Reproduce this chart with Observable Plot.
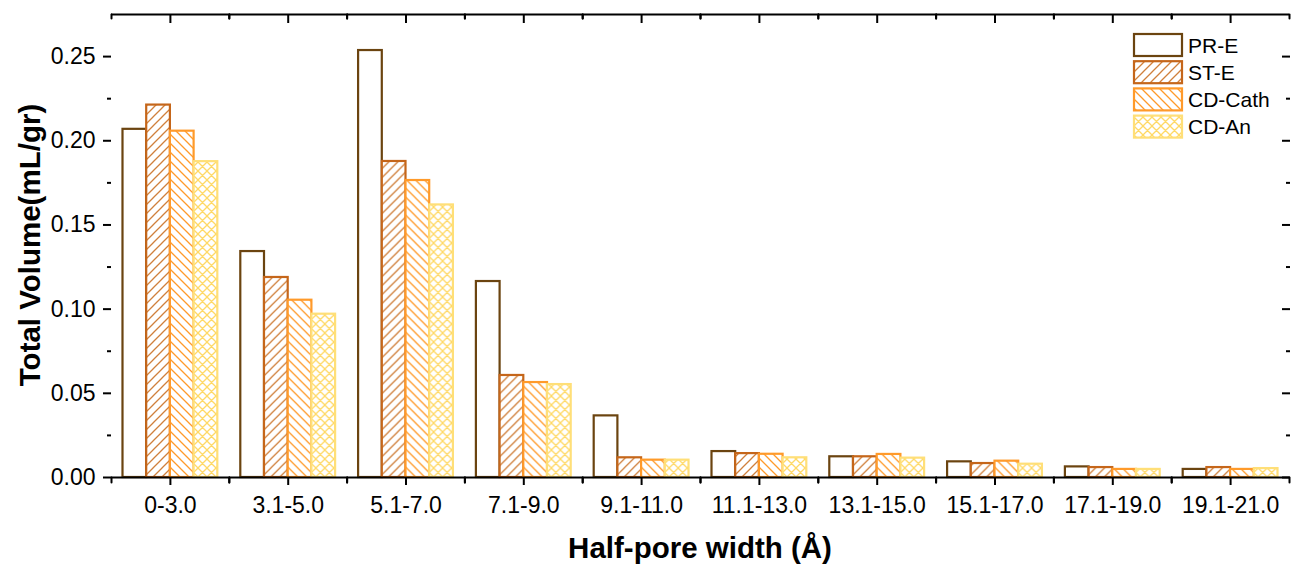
<!DOCTYPE html>
<html>
<head>
<meta charset="utf-8">
<script src="https://cdn.jsdelivr.net/npm/d3@7"></script>
<script src="https://cdn.jsdelivr.net/npm/@observablehq/plot@0.6"></script>
<style>
  html, body { margin: 0; padding: 0; background: #ffffff; }
  #chart svg { display: block; }
</style>
</head>
<body>
<div id="chart"></div>
<script>
// ---- data ----
const categories = ["0-3.0","3.1-5.0","5.1-7.0","7.1-9.0","9.1-11.0","11.1-13.0","13.1-15.0","15.1-17.0","17.1-19.0","19.1-21.0"];
const seriesNames = ["PR-E","ST-E","CD-Cath","CD-An"];
const prE    = [0.2068,0.1342,0.2536,0.1164,0.0366,0.0154,0.0123,0.0093,0.0063,0.0048];
const stE    = [0.2212,0.1188,0.1877,0.0606,0.0117,0.0142,0.0123,0.0083,0.0059,0.0059];
const cdCath = [0.2057,0.1053,0.1764,0.0564,0.0103,0.0138,0.0137,0.0097,0.0048,0.0048];
const cdAn   = [0.1876,0.0970,0.1619,0.0552,0.0103,0.0117,0.0115,0.0079,0.0048,0.0053];
const yTicks = [0,0.05,0.10,0.15,0.20,0.25];
const yMinorTicks = [0.025,0.075,0.125,0.175,0.225];
const xTitle = "Half-pore width (Å)";
const yTitle = "Total Volume(mL/gr)";

// ---- styles ----
const strokes = ["#6b4410","#c5661a","#ff9a2a","#ffdf78"];
const hatchColors = ["#6b4410","#d0803c","#ff9a2a","#ffd966"];
const fills = ["#ffffff","url(#hatch-st)","url(#hatch-cath)","url(#hatch-an)"];
const FONT = "'Liberation Sans', Arial, Helvetica, sans-serif";

const seriesValues = [prE, stE, cdCath, cdAn];
const data = categories.flatMap((c, i) =>
  seriesNames.map((s, j) => ({category: c, series: s, value: seriesValues[j][i]})));

const tickLine = {draw(context, l) { context.moveTo(0, 0); context.lineTo(0, -l); }};

const plot = Plot.plot({
  width: 1291,
  height: 565,
  marginLeft: 111,
  marginRight: 2,
  marginTop: 14,
  marginBottom: 88,
  style: {fontFamily: FONT, fontSize: "23px", color: "#000", background: "#fff"},
  fx: {domain: categories, padding: 0, round: false},
  x: {domain: seriesNames, paddingInner: 0, paddingOuter: 0.485, round: false, axis: null},
  y: {domain: [0, 0.275]},
  marks: [
    ...seriesNames.map((s, j) => Plot.barY(data.filter(d => d.series === s), {
      fx: "category", x: "series", y: "value",
      fill: fills[j], stroke: strokes[j], strokeWidth: 2.2
    })),
    Plot.ruleY([0], {stroke: "#000", strokeWidth: 2}),
    Plot.ruleY([0.275], {stroke: "#000", strokeWidth: 2}),
    // left axis
    Plot.axisY({ticks: yTicks, tickSize: 8, tickPadding: 8, tickFormat: d3.format(".2f"),
      line: true, strokeWidth: 2, label: null, fontSize: 23}),
    Plot.axisY({ticks: yMinorTicks, tickSize: 4, text: null, label: null, strokeWidth: 2}),
    // right axis (inward ticks)
    Plot.axisY({anchor: "right", ticks: [], line: true, label: null, strokeWidth: 2}),
    Plot.axisY({anchor: "right", ticks: yTicks, tickSize: 8, dx: -8, text: null, label: null, strokeWidth: 2}),
    Plot.axisY({anchor: "right", ticks: yMinorTicks, tickSize: 4, dx: -4, text: null, label: null, strokeWidth: 2}),
    // bottom x axis
    Plot.axisFx({anchor: "bottom", tickSize: 8, tickPadding: 11, label: null, fontSize: 23, strokeWidth: 2}),
    // top x axis (inward)
    Plot.axisFx({anchor: "top", tickSize: 8, dy: 8, text: null, label: null, strokeWidth: 2}),
    // minor x ticks at group boundaries
    Plot.vector([0], {frameAnchor: "bottom-left", length: 5, rotate: 180, anchor: "start", shape: tickLine, stroke: "#000", strokeWidth: 2}),
    Plot.vector([0], {frameAnchor: "bottom-right", length: 5, rotate: 180, anchor: "start", shape: tickLine, stroke: "#000", strokeWidth: 2}),
    Plot.vector([0], {frameAnchor: "top-left", length: 4, rotate: 180, anchor: "start", shape: tickLine, stroke: "#000", strokeWidth: 2}),
    Plot.vector([0], {frameAnchor: "top-right", length: 4, rotate: 180, anchor: "start", shape: tickLine, stroke: "#000", strokeWidth: 2})
  ]
});

document.getElementById("chart").appendChild(plot);

// ---- hatch patterns ----
const svg = d3.select(plot);
const defs = svg.insert("defs", ":first-child");
function pattern(id, color, paths) {
  const p = defs.append("pattern").attr("id", id).attr("patternUnits", "userSpaceOnUse")
    .attr("width", 9).attr("height", 9);
  p.append("rect").attr("width", 9).attr("height", 9).attr("fill", "#fff");
  p.append("path").attr("d", paths).attr("stroke", color).attr("stroke-width", 1.3).attr("fill", "none");
}
const slash = "M0,9 L9,0 M-2,2 L2,-2 M7,11 L11,7";
const back = "M0,0 L9,9 M-2,7 L2,11 M7,-2 L11,2";
pattern("hatch-st", hatchColors[1], slash);
pattern("hatch-cath", hatchColors[2], back);
pattern("hatch-an", hatchColors[3], slash + " " + back);

// ---- legend ----
const lg = svg.append("g").attr("class", "legend");
seriesNames.forEach((s, j) => {
  const y0 = 34 + j * 27.2;
  lg.append("rect").attr("x", 1134).attr("y", y0).attr("width", 48).attr("height", 22)
    .attr("fill", fills[j]).attr("stroke", strokes[j]).attr("stroke-width", 2.2);
  lg.append("text").attr("x", 1188).attr("y", y0 + 11).attr("dy", "0.36em")
    .attr("text-anchor", "start")
    .attr("font-family", FONT).attr("font-size", 21).attr("fill", "#000").text(s);
});

// ---- axis titles ----
svg.append("text").attr("x", 700).attr("y", 558).attr("text-anchor", "middle")
  .attr("font-family", FONT).attr("font-size", 29.5).attr("font-weight", "bold").attr("fill", "#000").text(xTitle);
svg.append("text").attr("transform", "translate(40,245) rotate(-90)").attr("text-anchor", "middle")
  .attr("font-family", FONT).attr("font-size", 29.5).attr("font-weight", "bold").attr("fill", "#000").text(yTitle);
</script>
</body>
</html>
